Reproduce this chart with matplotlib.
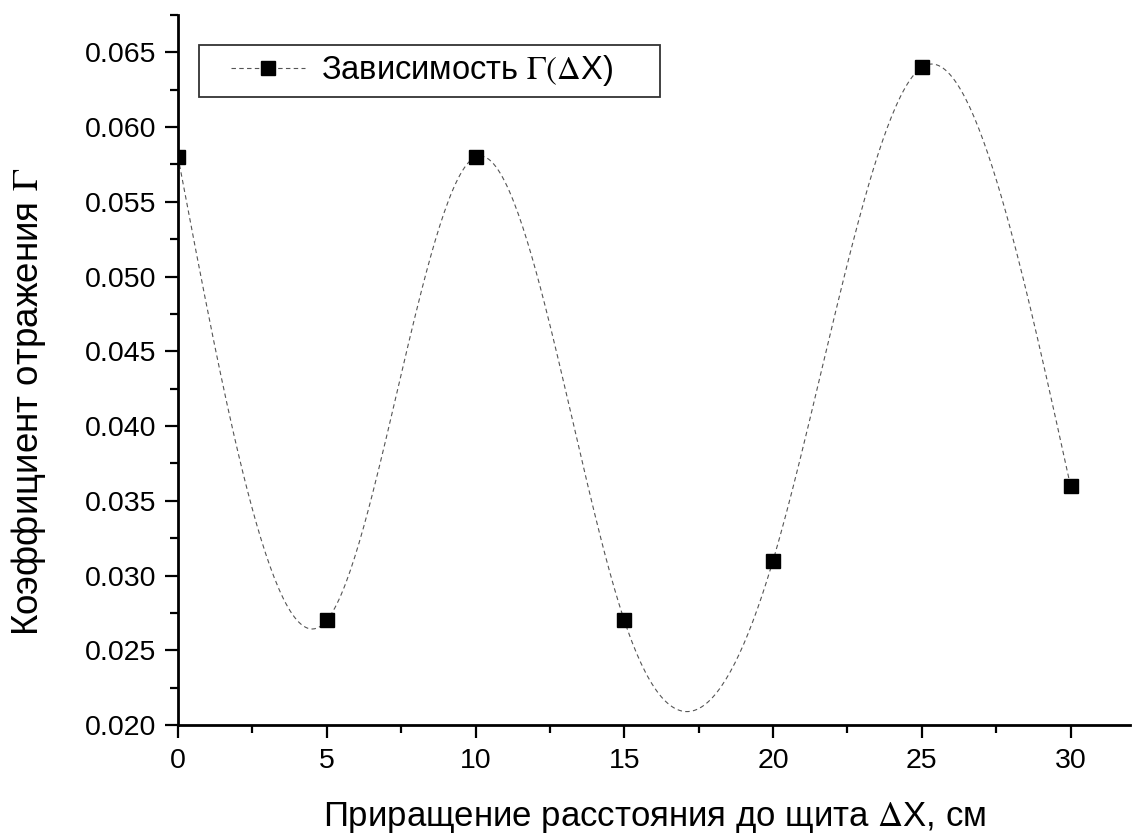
import numpy as np
import matplotlib
matplotlib.use("Agg")
import matplotlib.pyplot as plt
from matplotlib.ticker import MultipleLocator, FormatStrFormatter
from matplotlib.legend_handler import HandlerLine2D

plt.rcParams['font.family'] = ['Liberation Sans', 'DejaVu Sans']
plt.rcParams['mathtext.fontset'] = 'stix'

dx = [0, 5, 10, 15, 20, 25, 30]
gamma = [0.058, 0.027, 0.058, 0.027, 0.031, 0.064, 0.036]

def natural_spline(x, y, n=400):
    x = np.asarray(x, float); y = np.asarray(y, float)
    m = len(x); h = np.diff(x)
    A = np.zeros((m, m)); b = np.zeros(m)
    A[0, 0] = A[-1, -1] = 1
    for i in range(1, m - 1):
        A[i, i - 1] = h[i - 1]; A[i, i] = 2 * (h[i - 1] + h[i]); A[i, i + 1] = h[i]
        b[i] = 3 * ((y[i + 1] - y[i]) / h[i] - (y[i] - y[i - 1]) / h[i - 1])
    c = np.linalg.solve(A, b)
    xs = np.linspace(x[0], x[-1], n); ys = np.empty_like(xs)
    for k, t in enumerate(xs):
        i = min(np.searchsorted(x, t, side='right') - 1, m - 2)
        bi = (y[i + 1] - y[i]) / h[i] - h[i] * (2 * c[i] + c[i + 1]) / 3
        di = (c[i + 1] - c[i]) / (3 * h[i])
        d = t - x[i]
        ys[k] = y[i] + bi * d + c[i] * d ** 2 + di * d ** 3
    return xs, ys

fig = plt.figure(figsize=(11.42, 8.39), dpi=100)
ax = fig.add_axes([0.1559, 0.1359, 0.9895 - 0.1559, 0.9821 - 0.1359])

xs, ys = natural_spline(dx, gamma)
ax.plot(xs, ys, color='#555555', lw=0.8, ls=(0, (4, 3)))
ax.plot(dx, gamma, ls='none', marker='s', ms=10, color='black')

# legend proxy
proxy, = ax.plot([], [], color='#555555', lw=0.8, ls=(0, (4, 3)), marker='s', ms=10,
                 mfc='black', mec='black')

ax.set_xlim(0, 32)
ax.set_ylim(0.020, 0.0675)
ax.xaxis.set_major_locator(MultipleLocator(5))
ax.xaxis.set_minor_locator(MultipleLocator(2.5))
ax.yaxis.set_major_locator(MultipleLocator(0.005))
ax.yaxis.set_minor_locator(MultipleLocator(0.0025))
ax.yaxis.set_major_formatter(FormatStrFormatter('%.3f'))

for s in ['top', 'right']:
    ax.spines[s].set_visible(False)
for s in ['left', 'bottom']:
    ax.spines[s].set_linewidth(2)
ax.tick_params(which='major', direction='out', length=9.5, width=1.6, labelsize=20.5)
ax.tick_params(axis='x', which='major', pad=7)
ax.tick_params(axis='y', which='major', pad=6)
ax.tick_params(which='minor', direction='out', length=5.5, width=1.6)

ax.set_xlabel(r'Приращение расстояния до щита $\Delta$X, см', fontsize=25, labelpad=19)
ax.set_ylabel(r'Коэффициент отражения $\Gamma$', fontsize=26.5)
ax.yaxis.set_label_coords((48 - 178) / 952, (725 - 402) / 710)

fs = 23.5
fs_px = fs * 100 / 72
leg = ax.legend([proxy], [r'Зависимость $\Gamma(\Delta$X)     '],
                loc='upper left', bbox_to_anchor=(199 / 1142, 1 - 45 / 839),
                bbox_transform=fig.transFigure, borderaxespad=0, fontsize=fs,
                frameon=True, fancybox=False, edgecolor='black',
                handlelength=98 / fs_px, handletextpad=16 / fs_px, borderpad=0.26,
                handler_map={proxy: HandlerLine2D(xpad=24 / fs_px)})
leg.get_frame().set_linewidth(1.3)

fig.savefig('out.png', dpi=100)
